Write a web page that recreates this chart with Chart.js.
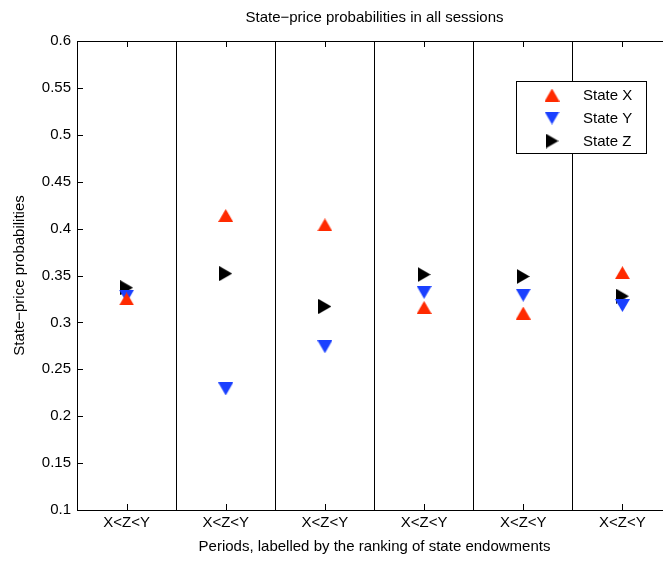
<!DOCTYPE html>
<html>
<head>
<meta charset="utf-8">
<script src="https://cdn.jsdelivr.net/npm/chart.js@4/dist/chart.umd.min.js"></script>
<style>
  html, body { margin: 0; padding: 0; background: #fff; overflow: hidden; }
  #wrap { width: 680px; height: 562px; }
</style>
</head>
<body>
<div id="wrap"><canvas id="c" width="680" height="562"></canvas></div>
<script>
// Period labels (ranking of state endowments) and state-price probabilities per state
const categories = ['X<Z<Y', 'X<Z<Y', 'X<Z<Y', 'X<Z<Y', 'X<Z<Y', 'X<Z<Y'];
const stateX = [0.325, 0.414, 0.404, 0.316, 0.310, 0.353];
const stateY = [0.328, 0.229, 0.274, 0.332, 0.329, 0.318];
const stateZ = [0.337, 0.352, 0.317, 0.351, 0.349, 0.328];
const seriesNames = ['State X', 'State Y', 'State Z'];

const FONT = '"Liberation Sans", Arial, Helvetica, sans-serif';
Chart.defaults.font.family = FONT;
Chart.defaults.font.size = 15;
Chart.defaults.color = '#000';

// Small canvases used as triangle markers, centred on their bounding box
function triangleMarker(dir, color) {
  const c = document.createElement('canvas');
  const long = 15, short = 13;
  c.width = dir === 'right' ? short : long;
  c.height = dir === 'right' ? long : short;
  const g = c.getContext('2d');
  g.fillStyle = color;
  g.beginPath();
  if (dir === 'up') { g.moveTo(0, short); g.lineTo(long, short); g.lineTo(long / 2, 0); }
  else if (dir === 'down') { g.moveTo(0, 0); g.lineTo(long, 0); g.lineTo(long / 2, short); }
  else { g.moveTo(0, 0); g.lineTo(short, long / 2); g.lineTo(0, long); }
  g.closePath();
  g.fill();
  return c;
}

const RED = '#ff2a00', BLUE = '#1a40ff', BLACK = '#000000';
const markers = [
  triangleMarker('up', RED),
  triangleMarker('down', BLUE),
  triangleMarker('right', BLACK)
];

// Axis box, inward tick marks and the legend
const framePlugin = {
  id: 'frame',
  afterDatasetsDraw(chart) {
    const { ctx, chartArea: a, scales: { x, y } } = chart;
    const tl = 6;
    ctx.save();
    ctx.strokeStyle = '#000';
    ctx.lineWidth = 1;
    ctx.beginPath();
    // top edge of the box
    ctx.moveTo(a.left, Math.round(a.top) + 0.5);
    ctx.lineTo(a.right, Math.round(a.top) + 0.5);
    // y ticks
    y.ticks.forEach(t => {
      const py = Math.round(y.getPixelForValue(t.value)) + 0.5;
      ctx.moveTo(a.left, py); ctx.lineTo(a.left + tl, py);
      ctx.moveTo(a.right, py); ctx.lineTo(a.right - tl, py);
    });
    // x ticks, top and bottom
    categories.forEach((_, i) => {
      const px = Math.round(x.getPixelForValue(i)) + 0.5;
      ctx.moveTo(px, a.bottom); ctx.lineTo(px, a.bottom - tl);
      ctx.moveTo(px, a.top); ctx.lineTo(px, a.top + tl);
    });
    ctx.stroke();

    // legend box
    const lx = 516, ly = 81, lw = 130, lh = 72;
    ctx.fillStyle = '#fff';
    ctx.fillRect(lx, ly, lw, lh);
    ctx.strokeRect(lx + 0.5, ly + 0.5, lw, lh);
    ctx.font = '15px ' + FONT;
    ctx.fillStyle = '#000';
    ctx.textBaseline = 'middle';
    ctx.textAlign = 'left';
    chart.data.datasets.forEach((ds, i) => {
      const cy = ly + 14 + i * 23;
      const m = ds.pointStyle;
      ctx.drawImage(m, 552 - m.width / 2, cy - m.height / 2);
      ctx.fillText(ds.label, 583, cy + 1);
    });
    ctx.restore();
  }
};

const seriesValues = [stateX, stateY, stateZ];
new Chart(document.getElementById('c'), {
  type: 'line',
  data: {
    labels: categories,
    datasets: seriesValues.map((vals, i) => ({
      label: seriesNames[i],
      data: vals,
      showLine: false,
      pointStyle: markers[i],
      pointRadius: 7,
      pointHoverRadius: 7
    }))
  },
  options: {
    responsive: false,
    animation: false,
    events: [],
    layout: { padding: { left: 0, right: 8, top: 0, bottom: 0 } },
    plugins: {
      legend: { display: false },
      tooltip: { enabled: false },
      title: {
        display: true,
        fullSize: false,
        text: 'State\u2212price probabilities in all sessions',
        font: { size: 15, weight: 'normal', lineHeight: 1.2 },
        color: '#000',
        padding: { top: 9, bottom: 14 }
      }
    },
    scales: {
      x: {
        type: 'category',
        offset: true,
        grid: { display: true, offset: true, color: '#000', lineWidth: 1, drawTicks: false },
        border: { display: true, color: '#000', width: 1 },
        ticks: { autoSkip: false, maxRotation: 0, padding: 4, font: { size: 15 }, color: '#000' },
        title: {
          display: true,
          text: 'Periods, labelled by the ranking of state endowments',
          font: { size: 15, lineHeight: 1.2 },
          color: '#000',
          padding: { top: 0, bottom: 6 }
        },
        afterFit(s) { s.height = 52; }
      },
      y: {
        min: 0.1,
        max: 0.6,
        grid: { display: false, drawTicks: false },
        border: { display: true, color: '#000', width: 1 },
        ticks: {
          stepSize: 0.05,
          padding: 6,
          font: { size: 15 },
          color: '#000',
          callback: v => String(parseFloat(Number(v).toFixed(2)))
        },
        title: {
          display: true,
          text: 'State\u2212price probabilities',
          font: { size: 15, lineHeight: 1.2 },
          color: '#000',
          padding: { top: 11, bottom: 0 }
        },
        afterFit(s) { s.width = 77; }
      }
    }
  },
  plugins: [framePlugin]
});
</script>
</body>
</html>
